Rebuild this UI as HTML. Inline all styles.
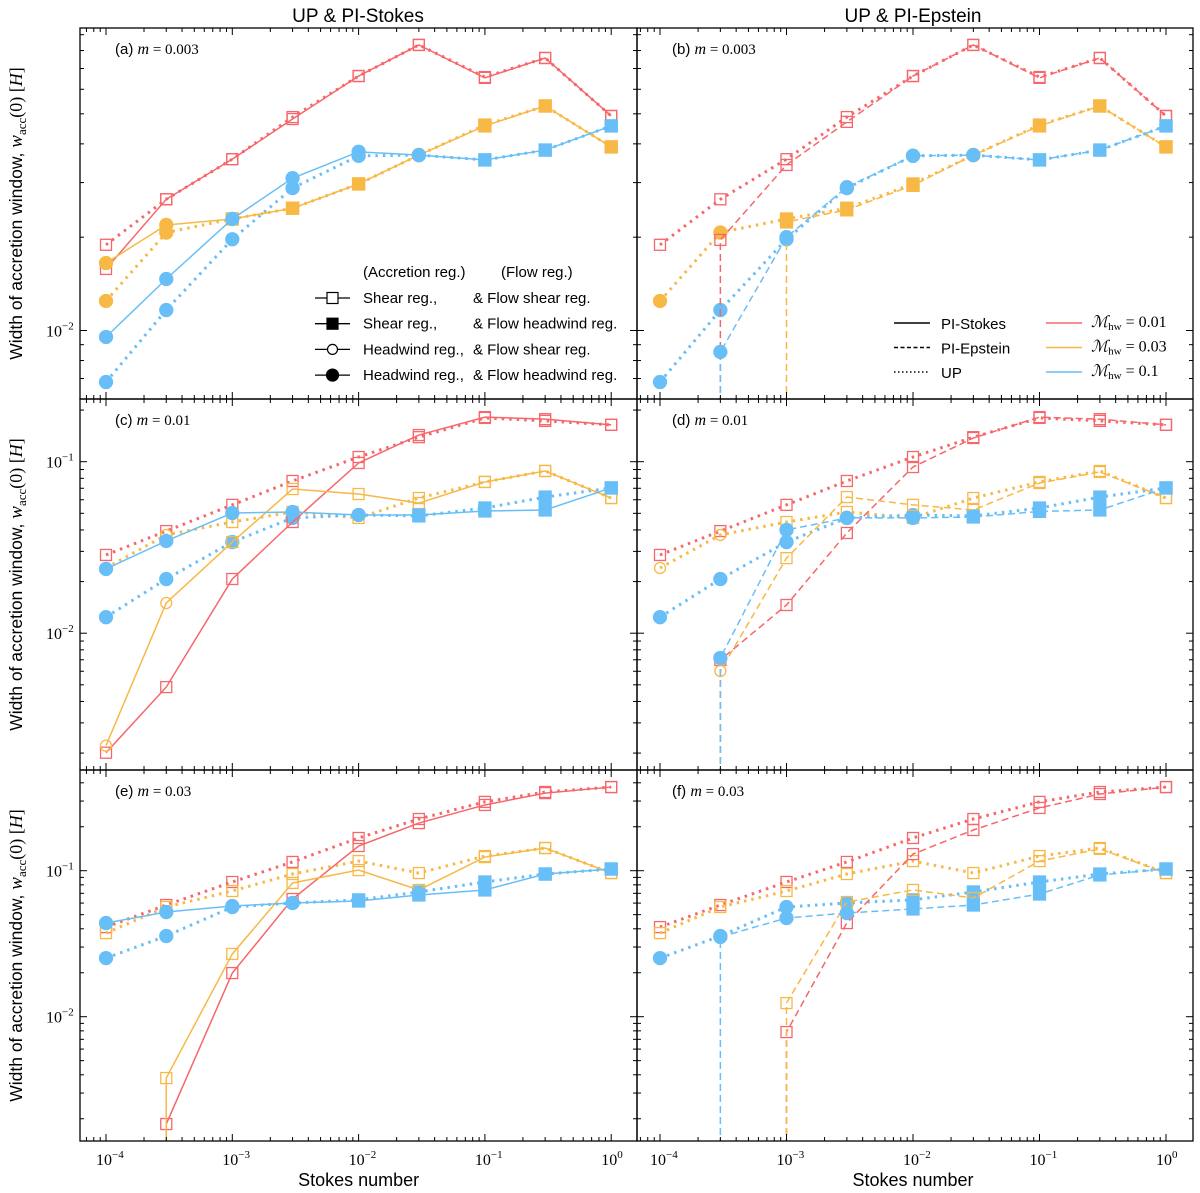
<!DOCTYPE html>
<html><head><meta charset="utf-8">
<style>
html,body{margin:0;padding:0;background:#fff;}
svg{display:block;}
text{font-family:"Liberation Sans",sans-serif;fill:#000;}
.mt{font-family:"Liberation Serif",serif;}
</style></head>
<body>
<svg id="fig" width="1200" height="1193" viewBox="0 0 1200 1193" xmlns="http://www.w3.org/2000/svg"></svg>
<script>
// ---- data ----
const stokesNumbers = [1e-4,3e-4,1e-3,3e-3,1e-2,3e-2,0.1,0.3,1];
const xTickExps = [-4,-3,-2,-1,0];
const machLabels = ["0.01","0.03","0.1"];
// row (a/b) m=0.003
const upRedA     = [0.0189,0.0265,0.0357,0.0488,0.0662,0.0834,0.0657,0.0757,0.0492];
const upOrangeA  = [0.01245,0.0207,0.0229,0.0248,0.0297,0.0368,0.0460,0.0530,0.0391];
const upBlueA    = [0.00682,0.01164,0.0197,0.0288,0.0366,0.0368,0.0355,0.0382,0.0457];
const stRedA     = [0.0158,0.0265,0.0357,0.0481,0.0662,0.0834,0.0653,0.0757,0.0492];
const stOrangeA  = [0.0165,0.0219,0.0229,0.0248,0.0297,0.0368,0.0457,0.0530,0.0391];
const stBlueA    = [0.00953,0.01466,0.0229,0.0310,0.0377,0.0368,0.0355,0.0382,0.0457];
const epRedB     = [0,0.0196,0.0342,0.0471,0.0662,0.0834,0.0653,0.0757,0.0492];
const epOrangeB  = [0,0,0.0224,0.0245,0.0294,0.0368,0.0457,0.0530,0.0391];
const epBlueB    = [0,0.00853,0.0200,0.0290,0.0366,0.0368,0.0355,0.0382,0.0457];
// row (c/d) m=0.01
const upRedC     = [0.0286,0.0394,0.0560,0.0772,0.1065,0.139,0.180,0.173,0.164];
const upOrangeC  = [0.0240,0.0374,0.0445,0.0509,0.0470,0.0614,0.0762,0.0883,0.0614];
const upBlueC    = [0.0124,0.0207,0.0340,0.0470,0.0489,0.0483,0.0537,0.0622,0.0703];
const stRedC     = [0.00201,0.00485,0.0207,0.0445,0.0983,0.143,0.182,0.177,0.164];
const stOrangeC  = [0.00221,0.0150,0.0340,0.0693,0.0648,0.0574,0.0762,0.0883,0.0614];
const stBlueC    = [0.0237,0.0345,0.0502,0.0509,0.0489,0.0489,0.0516,0.0523,0.0703];
const epRedD     = [0,0.00698,0.0146,0.0384,0.0931,0.1375,0.182,0.177,0.164];
const epOrangeD  = [0,0.00602,0.0274,0.0622,0.0560,0.0523,0.0751,0.0871,0.0614];
const epBlueD    = [0,0.00717,0.0400,0.0470,0.0470,0.0476,0.0513,0.0523,0.0703];
// row (e/f) m=0.03
const upRedE     = [0.0411,0.0582,0.0837,0.1148,0.1675,0.226,0.296,0.346,0.374];
const upOrangeE  = [0.0374,0.0564,0.0726,0.0949,0.1164,0.0964,0.126,0.143,0.0964];
const upBlueE    = [0.0252,0.0357,0.0564,0.0601,0.0631,0.0715,0.0837,0.0949,0.1027];
const stRedE     = [0,0.00184,0.0199,0.0640,0.1476,0.212,0.282,0.340,0.374];
const stOrangeE  = [0,0.00380,0.0269,0.0824,0.101,0.0738,0.124,0.143,0.0964];
const stBlueE    = [0.0438,0.0521,0.0573,0.0601,0.0620,0.0682,0.0738,0.0949,0.1027];
const epRedF     = [0,0,0.00785,0.0438,0.130,0.190,0.269,0.335,0.374];
const epOrangeF  = [0,0,0.0124,0.0610,0.0738,0.0650,0.1164,0.141,0.0964];
const epBlueF    = [0,0.0352,0.0474,0.0513,0.0547,0.0582,0.0692,0.0935,0.1027];
// marker regimes: os open square, fs filled square, oc open circle, fc filled circle
const mkRed   = ["os","os","os","os","os","os","os","os","os"];
const mkOrA   = ["fc","fc","fs","fs","fs","fc","fs","fs","fs"];
const mkBluA  = ["fc","fc","fc","fc","fc","fc","fs","fs","fs"];
const mkOrC   = ["oc","oc","os","os","os","os","os","os","os"];
const mkBluC  = ["fc","fc","fc","fc","fc","fs","fs","fs","fs"];
const mkOrE   = ["os","os","os","os","os","os","os","os","os"];
const mkBluE  = ["fc","fc","fc","fc","fs","fs","fs","fs","fs"];
const mkBluF  = ["fc","fc","fc","fc","fs","fs","fs","fs","fs"];

// ---- layout ----
const COLORS = {red:"#f7666a", orange:"#f8b846", blue:"#68bff7"};
const rows = [
  {top:28, bot:399, refExp:-2, refY:330.5, dec:310, ticks:[-2]},
  {top:399, bot:770, refExp:-1, refY:461.7, dec:171.5, ticks:[-1,-2]},
  {top:770, bot:1141, refExp:-1, refY:870.7, dec:146, ticks:[-1,-2]}
];
const cols = [{l:80, r:637, x0:106, dx:126.3},{l:637, r:1193, x0:660, dx:126.5}];
const NS = "http://www.w3.org/2000/svg";
const svg = document.getElementById("fig");
function mk(tag, attrs, parent){const e=document.createElementNS(NS,tag);for(const k in attrs)e.setAttribute(k,attrs[k]);(parent||svg).appendChild(e);return e;}
function xScale(c, v){return c.x0 + (Math.log10(v)+4)*c.dx;}
function yScale(r, v){return r.refY - (Math.log10(v)-r.refExp)*r.dec;}

const panels = [
  {row:0,col:0,label:"(a)",m:"0.003",series:[
    {d:upRedA,c:"red",st:"dot",mk:mkRed},{d:upOrangeA,c:"orange",st:"dot",mk:mkOrA},{d:upBlueA,c:"blue",st:"dot",mk:mkBluA},
    {d:stRedA,c:"red",st:"solid",mk:mkRed},{d:stOrangeA,c:"orange",st:"solid",mk:mkOrA},{d:stBlueA,c:"blue",st:"solid",mk:mkBluA}]},
  {row:0,col:1,label:"(b)",m:"0.003",series:[
    {d:upRedA,c:"red",st:"dot",mk:mkRed},{d:upOrangeA,c:"orange",st:"dot",mk:mkOrA},{d:upBlueA,c:"blue",st:"dot",mk:mkBluA},
    {d:epRedB,c:"red",st:"dash",mk:mkRed},{d:epOrangeB,c:"orange",st:"dash",mk:mkOrA},{d:epBlueB,c:"blue",st:"dash",mk:mkBluA}]},
  {row:1,col:0,label:"(c)",m:"0.01",series:[
    {d:upRedC,c:"red",st:"dot",mk:mkRed},{d:upOrangeC,c:"orange",st:"dot",mk:mkOrC},{d:upBlueC,c:"blue",st:"dot",mk:mkBluC},
    {d:stRedC,c:"red",st:"solid",mk:mkRed},{d:stOrangeC,c:"orange",st:"solid",mk:mkOrC},{d:stBlueC,c:"blue",st:"solid",mk:mkBluC}]},
  {row:1,col:1,label:"(d)",m:"0.01",series:[
    {d:upRedC,c:"red",st:"dot",mk:mkRed},{d:upOrangeC,c:"orange",st:"dot",mk:mkOrC},{d:upBlueC,c:"blue",st:"dot",mk:mkBluC},
    {d:epRedD,c:"red",st:"dash",mk:mkRed},{d:epOrangeD,c:"orange",st:"dash",mk:mkOrC},{d:epBlueD,c:"blue",st:"dash",mk:mkBluC}]},
  {row:2,col:0,label:"(e)",m:"0.03",series:[
    {d:upRedE,c:"red",st:"dot",mk:mkRed},{d:upOrangeE,c:"orange",st:"dot",mk:mkOrE},{d:upBlueE,c:"blue",st:"dot",mk:mkBluE},
    {d:stRedE,c:"red",st:"solid",mk:mkRed},{d:stOrangeE,c:"orange",st:"solid",mk:mkOrE},{d:stBlueE,c:"blue",st:"solid",mk:mkBluE}]},
  {row:2,col:1,label:"(f)",m:"0.03",series:[
    {d:upRedE,c:"red",st:"dot",mk:mkRed},{d:upOrangeE,c:"orange",st:"dot",mk:mkOrE},{d:upBlueE,c:"blue",st:"dot",mk:mkBluE},
    {d:epRedF,c:"red",st:"dash",mk:mkRed},{d:epOrangeF,c:"orange",st:"dash",mk:mkOrE},{d:epBlueF,c:"blue",st:"dash",mk:mkBluF}]}
];

function styleOf(st){
  if(st==="dot") return {"stroke-width":3,"stroke-dasharray":"2.5 5"};
  if(st==="dash") return {"stroke-width":1.5,"stroke-dasharray":"7 4"};
  return {"stroke-width":1.5};
}

panels.forEach((p,pi)=>{
  const r=rows[p.row], c=cols[p.col];
  const g=mk("g",{});
  
  
  mk("clipPath",{id:"clip"+pi},g).appendChild(Object.assign(document.createElementNS(NS,"rect"),{}));
  const cr=g.lastChild.lastChild; cr.setAttribute("x",c.l);cr.setAttribute("y",r.top);cr.setAttribute("width",c.r-c.l);cr.setAttribute("height",r.bot-r.top);
  const pg=mk("g",{"clip-path":"url(#clip"+pi+")"},g);
  p.series.forEach((s,si)=>{
    const col=COLORS[s.c];
    const sg=mk("g",{},pg);
    
    
    let pts=[]; let first=-1;
    s.d.forEach((v,i)=>{ if(v>0){ if(first<0) first=i; pts.push([xScale(c,stokesNumbers[i]), yScale(r,v), s.mk[i]]);} });
    const sty=styleOf(s.st);
    let dstr="";
    if(first>0){ dstr+="M"+pts[0][0]+","+(r.bot+5)+" L"+pts[0][0]+","+pts[0][1]+" "; }
    else dstr+="M"+pts[0][0]+","+pts[0][1]+" ";
    pts.slice(1).forEach(q=>dstr+="L"+q[0]+","+q[1]+" ");
    const a=Object.assign({d:dstr,fill:"none",stroke:col},sty);
    const line=mk("path",a,sg);
    
    
    pts.forEach(q=>{
      let m;
      const filled=q[2][0]==="f";
      if(q[2][1]==="s"){ const h=filled?6:5.5; m=mk("rect",{x:q[0]-h,y:q[1]-h,width:2*h,height:2*h,fill:filled?col:"none",stroke:col,"stroke-width":1.3},sg); }
      else { m=mk("circle",{cx:q[0],cy:q[1],r:filled?6.5:5.5,fill:filled?col:"none",stroke:col,"stroke-width":1.3},sg); }
      
      
    });
  });
  // frame
  const fr=mk("rect",{x:c.l,y:r.top,width:c.r-c.l,height:r.bot-r.top,fill:"none",stroke:"#000","stroke-width":1.3},g);
  
  
  // x ticks
  for(let e=-5;e<=0;e++){
    for(let k=1;k<10;k++){
      const v=k*Math.pow(10,e); const x=xScale(c,v);
      if(x<c.l+1||x>c.r-1) continue;
      const L=k===1?7:4;
      mk("line",{x1:x,y1:r.bot,x2:x,y2:r.bot-L,stroke:"#000","stroke-width":1},g);
      mk("line",{x1:x,y1:r.top,x2:x,y2:r.top+L,stroke:"#000","stroke-width":1},g);
    }
  }
  // y ticks
  for(let e=-4;e<=0;e++){
    for(let k=1;k<10;k++){
      const v=k*Math.pow(10,e); const y=yScale(r,v);
      if(y<r.top+1||y>r.bot-1) continue;
      const L=k===1?7:4;
      mk("line",{x1:c.l,y1:y,x2:c.l+L,y2:y,stroke:"#000","stroke-width":1},g);
      mk("line",{x1:c.r,y1:y,x2:c.r-L,y2:y,stroke:"#000","stroke-width":1},g);
    }
  }
  // panel label
  const t=mk("text",{x:c.l+35,y:r.top+26,"font-size":15},g);
  
  
  t.innerHTML=p.label+' <tspan class="mt" font-style="italic" font-size="16">m</tspan><tspan class="mt" font-size="15"> = '+p.m+'</tspan>';
  // y tick labels
  if(p.col===0){
    r.ticks.forEach(e=>{
      const y=yScale(r,Math.pow(10,e));
      const tl=mk("text",{x:c.l-34,y:y+6,"font-size":16,class:"mt"});
      
      
      tl.innerHTML='10<tspan dy="-7" font-size="11">−'+(-e)+'</tspan>';
    });
  }
  // x tick labels
  if(p.row===2){
    xTickExps.forEach(e=>{
      const x=xScale(c,Math.pow(10,e));
      const tl=mk("text",{x:x-10,y:r.bot+24,"font-size":16,class:"mt"});
      
      
      tl.innerHTML='10<tspan dy="-7" font-size="11">'+(e<0?'−'+(-e):'0')+'</tspan>';
    });
  }
});

// titles
[["UP &amp; PI-Stokes",358],["UP &amp; PI-Epstein",913]].forEach(([s,x])=>{
  const t=mk("text",{x:x,y:22,"font-size":19,"text-anchor":"middle"});
  
  
  t.innerHTML=s;
});
cols.forEach(c=>{
  const t=mk("text",{x:(c.x0+c.x0+4*c.dx)/2,y:1186,"font-size":18,"text-anchor":"middle"});
  
  
  t.textContent="Stokes number";
});
rows.forEach(r=>{
  const cy=(r.top+r.bot)/2;
  const t=mk("text",{x:0,y:0,"font-size":17.5,"text-anchor":"middle",transform:"translate(22,"+cy+") rotate(-90)"});
  
  
  t.innerHTML='Width of accretion window, <tspan class="mt" font-style="italic" font-size="19">w</tspan><tspan class="mt" font-size="13" dy="4">acc</tspan><tspan class="mt" font-size="18" dy="-4">(0) [</tspan><tspan class="mt" font-style="italic" font-size="18">H</tspan><tspan class="mt" font-size="18">]</tspan>';
});

// legend (a)
const lg=mk("g",{});


mk("text",{x:363,y:277,"font-size":15},lg).textContent="(Accretion reg.)";
mk("text",{x:501,y:277,"font-size":15},lg).textContent="(Flow reg.)";
const legRows=[["os","Shear reg.,","&amp; Flow shear reg."],["fs","Shear reg.,","&amp; Flow headwind reg."],["oc","Headwind reg.,","&amp; Flow shear reg."],["fc","Headwind reg.,","&amp; Flow headwind reg."]];
legRows.forEach((lr,i)=>{
  const y=298+i*25.7;
  const e=mk("g",{},lg);
  
  
  mk("line",{x1:315,y1:y,x2:350,y2:y,stroke:"#000","stroke-width":1.3},e);
  if(lr[0][1]==="s") mk("rect",{x:327,y:y-5.5,width:11,height:11,fill:lr[0][0]==="f"?"#000":"#fff",stroke:"#000","stroke-width":1.2},e);
  else mk("circle",{cx:332.5,cy:y,r:lr[0][0]==="f"?6:5,fill:lr[0][0]==="f"?"#000":"#fff",stroke:"#000","stroke-width":1.2},e);
  mk("text",{x:363,y:y+5,"font-size":15},e).innerHTML=lr[1];
  mk("text",{x:473,y:y+5,"font-size":15},e).innerHTML=lr[2];
});
// legend (b)
const lb=mk("g",{});


[["solid","PI-Stokes"],["dash","PI-Epstein"],["dot","UP"]].forEach((s,i)=>{
  const y=323+i*24.5;
  const sty=s[0]==="dot"?{"stroke-width":1.5,"stroke-dasharray":"1.5 2.5"}:(s[0]==="dash"?{"stroke-width":1.5,"stroke-dasharray":"4 2.5"}:{"stroke-width":1.5});
  mk("line",Object.assign({x1:894,y1:y,x2:930,y2:y,stroke:"#000"},sty),lb);
  mk("text",{x:941,y:y+6,"font-size":15},lb).textContent=s[1];
});
["red","orange","blue"].forEach((cn,i)=>{
  const y=323+i*24.5;
  mk("line",{x1:1046,y1:y,x2:1082,y2:y,stroke:COLORS[cn],"stroke-width":1.5},lb);
  const t=mk("text",{x:1091,y:y+4,"font-size":16,class:"mt"},lb);
  t.innerHTML='<tspan font-style="italic">ℳ</tspan><tspan font-size="11" dy="3">hw</tspan><tspan dy="-3"> = '+machLabels[i]+'</tspan>';
});
</script>
</body></html>
